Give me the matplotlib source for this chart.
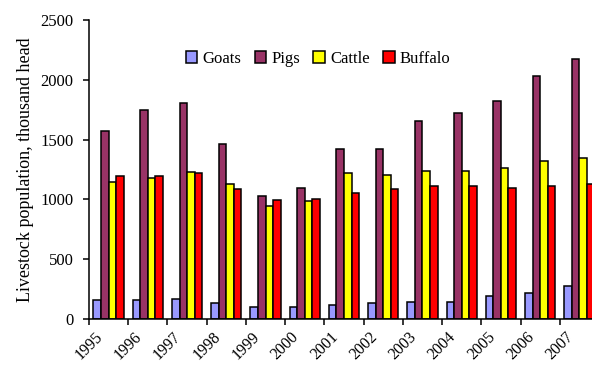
import numpy as np
import matplotlib.pyplot as plt
import matplotlib.transforms as mtransforms

plt.rcParams['font.family'] = ['Liberation Serif', 'DejaVu Serif']
plt.rcParams['font.size'] = 12

years = ['1995', '1996', '1997', '1998', '1999', '2000', '2001',
         '2002', '2003', '2004', '2005', '2006', '2007']
goats = [155, 155, 167, 131, 98, 98, 120, 134, 145, 145, 192, 215, 273]
pigs = [1573, 1751, 1807, 1467, 1029, 1099, 1419, 1419, 1656, 1723, 1824, 2033, 2175]
cattle = [1149, 1182, 1230, 1127, 948, 984, 1219, 1207, 1241, 1241, 1266, 1325, 1347]
buffalo = [1196, 1196, 1219, 1088, 993, 1007, 1054, 1088, 1113, 1113, 1099, 1113, 1127]

series = [('Goats', goats, '#9999FF'),
          ('Pigs', pigs, '#993366'),
          ('Cattle', cattle, '#FFFF00'),
          ('Buffalo', buffalo, '#FF0000')]

fig = plt.figure(figsize=(5.92, 3.66), dpi=100)
ax = fig.add_axes([0.1503, 0.1284, 0.8615, 0.817])

x = np.arange(len(years))
width = 0.1925
offset = 0.115
for k, (name, vals, color) in enumerate(series):
    ax.bar(x + offset + k * width, vals, width, align='edge', color=color,
           edgecolor='black', linewidth=1.1, label=name)

ax.set_xlim(0, len(years))
ax.set_ylim(0, 2500)
ax.set_yticks(range(0, 2501, 500))
ax.set_xticks(x)
ax.set_xticklabels(years, rotation=45, ha='center', va='top', fontsize=11.5)
shift = mtransforms.ScaledTranslation(-3 / 72, 0, fig.dpi_scale_trans)
for lab in ax.get_xticklabels():
    lab.set_transform(lab.get_transform() + shift)

for side in ['top', 'right']:
    ax.spines[side].set_visible(False)
for side in ['left', 'bottom']:
    ax.spines[side].set_linewidth(1.1)
ax.tick_params(axis='y', direction='out', length=4, width=1.1, pad=7)
ax.tick_params(axis='x', direction='out', length=4, width=1.1, pad=3)

ax.set_ylabel('Livestock population, thousand head', fontsize=13, labelpad=5)

ax.legend(loc='center', bbox_to_anchor=(318 / 592, 1 - 59 / 366),
          bbox_transform=fig.transFigure, ncol=4, frameon=False,
          handlelength=0.7, handleheight=0.7, handletextpad=0.3,
          columnspacing=0.8, borderpad=0)

fig.savefig('out.png', dpi=100)
